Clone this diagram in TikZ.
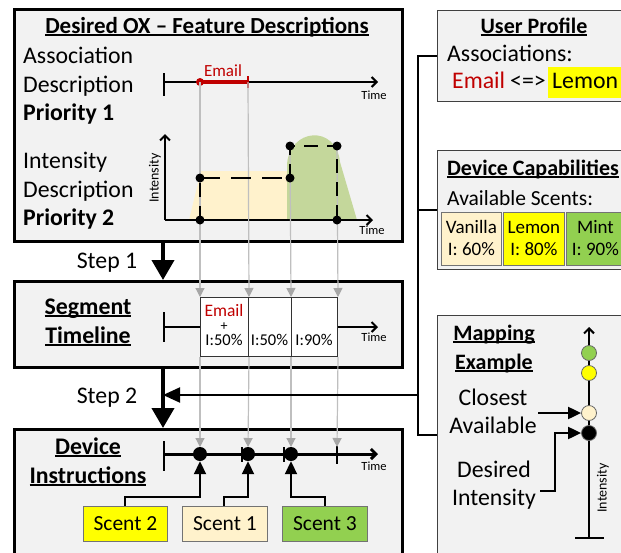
\documentclass[tikz,border=0pt]{standalone}
\usepackage{fontspec}
\setmainfont{Carlito}
\usetikzlibrary{arrows.meta,calc}

\definecolor{panel}{HTML}{F2F2F2}
\definecolor{cream}{HTML}{FFF2CC}
\definecolor{lemon}{HTML}{FFFF00}
\definecolor{mint}{HTML}{92D050}
\definecolor{emailred}{HTML}{C00000}
\definecolor{guide}{HTML}{BFBFBF}
\definecolor{guidetip}{HTML}{A6A6A6}
\definecolor{plotcream}{HTML}{FFF2CC}
\definecolor{plotgreen}{HTML}{C4D79B}

\newcommand{\fsz}[1]{\fontsize{#1}{#1}\selectfont}
% bold heading with a thick underline
\newcommand{\hdr}[1]{\begingroup\setbox0\hbox{\bfseries #1}%
  \leavevmode\rlap{\rule[-2.6pt]{\wd0}{1.4pt}}\box0\endgroup}

\tikzset{
  panelbox/.style={draw, line width=3pt, fill=panel, anchor=north west, inner sep=0pt},
  sidebox/.style={draw=black!75, line width=1pt, fill=panel, anchor=north west, inner sep=0pt},
  chip/.style={draw=black!55, line width=0.8pt, anchor=north west, inner sep=0pt},
  cell/.style={draw=black!80, line width=1pt, fill=white, anchor=north west, inner sep=0pt},
  body/.style={font=\fsz{23.8}, inner sep=0pt},
  small/.style={font=\fsz{12.5}, inner sep=0pt},
  steparrow/.style={line width=4pt, -{Triangle[width=22pt,length=20pt]}},
  busline/.style={line width=2pt},
  guideline/.style={draw=guide, line width=1.2pt, -{Triangle[width=9pt,length=9pt,color=guidetip]}},
  axisline/.style={line width=2pt, -{Straight Barb[length=5pt,width=10pt]}},
  tickline/.style={line width=2.5pt},
  mark/.style={circle, fill=black, inner sep=0pt, minimum size=#1},
  blackhead/.style={line width=2pt, -{Triangle[width=12pt,length=13pt]}},
  bubble/.style={circle, draw=black!60, line width=0.8pt, inner sep=0pt, minimum size=15pt},
}

\begin{document}
\begin{tikzpicture}[x=1pt, y=-1pt]
\useasboundingbox (0,0) rectangle (621,552);
\clip (0,0) rectangle (621,552);

% ---------------- main panels ----------------
\node[panelbox, minimum width=388pt, minimum height=232pt] (feat) at (13,8) {};
\node[panelbox, minimum width=388pt, minimum height=86pt] (seg) at (13,280) {};
\node[panelbox, minimum width=388pt, minimum height=142pt] (dev) at (13,428) {};

% ---------------- side panels ----------------
\node[sidebox, minimum width=203pt, minimum height=91pt] (prof) at (437,10) {};
\node[sidebox, minimum width=203pt, minimum height=119pt] (cap) at (437,150) {};
\node[sidebox, minimum width=203pt, minimum height=255pt] (map) at (437,315) {};

% ---------------- feature descriptions ----------------
\node[font=\fsz{23}, inner sep=0pt, anchor=base] (feattitle) at (207,33) {\hdr{Desired OX – Feature Descriptions}};
\node[body, anchor=base west] (l1) at (23,63) {Association};
\node[body, anchor=base west] (l2) at (23,92) {Description};
\node[body, anchor=base west] (l3) at (23,120) {\bfseries Priority 1};
\node[body, anchor=base west] (l4) at (23,168) {Intensity};
\node[body, anchor=base west] (l5) at (23,197) {Description};
\node[body, anchor=base west] (l6) at (23,225) {\bfseries Priority 2};

% association time line
\coordinate (a0) at (164,82);
\coordinate (aS) at (200,82);
\coordinate (aE) at (248,82);
\coordinate (aT) at (378,82);
\draw[tickline] (164,73) -- (164,96);
\draw[axisline] (a0) -- (aT);
\draw[emailred, line width=3.5pt] (aS) -- (aE);
\draw[emailred, line width=1.5pt] (248,76) -- (248,88);
\node[mark=8pt, fill=emailred] (aDot) at (aS) {};
\node[font=\fsz{17}, text=emailred, anchor=base, inner sep=0pt] (aEmail) at (223,76) {Email};
\node[small, anchor=base] (aTime) at (374,99) {Time};

% intensity plot
\fill[plotcream] (189,220) -- (201,171) -- (287,171) -- (287,220) -- cycle;
\fill[plotgreen] (287,220) -- (287,165) .. controls (289,128) and (336,124) .. (340,162) -- (357,220) -- cycle;
\coordinate (p0) at (165,220);
\draw[axisline] (p0) -- (165,134);
\draw[axisline] (p0) -- (373,220);
\node[font=\fsz{14}, rotate=90, inner sep=0pt] (pInt) at (155,178) {Intensity};
\node[small, anchor=base] (pTime) at (372,234) {Time};

% corner points of the desired intensity curve
\coordinate (q1) at (200,178);
\coordinate (q2) at (290,178);
\coordinate (q3) at (290,146);
\coordinate (q4) at (337,146);
\coordinate (q0) at (200,220);
\coordinate (q5) at (337,220);

% ---------------- segment timeline ----------------
\node[body, anchor=base] (segt1) at (88,314) {\hdr{Segment}};
\node[body, anchor=base] (segt2) at (88,343) {\hdr{Timeline}};
\coordinate (s0) at (164,327);
\draw[tickline] (164,312) -- (164,342);
\node[cell, minimum width=48pt, minimum height=59pt] (c1) at (200,297) {};
\node[cell, minimum width=43pt, minimum height=59pt] (c2) at (248,297) {};
\node[cell, minimum width=46pt, minimum height=59pt] (c3) at (291,297) {};
\draw[line width=2pt] (s0) -- (c1.west |- s0);
\draw[axisline] (c3.east |- s0) -- (378,327);
\node[font=\fsz{17.5}, text=emailred, anchor=base, inner sep=0pt] (cEmail) at (224,316) {Email};
\node[font=\fsz{14}, anchor=base, inner sep=0pt] (cPlus) at (224,330) {+};
\node[font=\fsz{16.5}, anchor=base, inner sep=0pt] (cI1) at (224,345) {I:50\%};
\node[font=\fsz{16.5}, anchor=base, inner sep=0pt] (cI2) at (269.5,345) {I:50\%};
\node[font=\fsz{16.5}, anchor=base, inner sep=0pt] (cI3) at (314,345) {I:90\%};
\node[small, anchor=base] (sTime) at (374,341) {Time};

% ---------------- device instructions ----------------
\node[body, anchor=base] (devt1) at (88,454) {\hdr{Device}};
\node[body, anchor=base] (devt2) at (88,483) {\hdr{Instructions}};
\coordinate (d0) at (164,454);
\draw[tickline] (164,441) -- (164,471);
\draw[line width=3pt, -{Straight Barb[length=5pt,width=10pt]}] (d0) -- (378,454);
\draw[tickline] (242,447) -- (242,462);
\draw[tickline] (284,447) -- (284,462);
\draw[tickline] (337,446) -- (337,464);
\node[mark=14pt] (d1) at (200,454) {};
\node[mark=14pt] (d2) at (248,454) {};
\node[mark=14pt] (d3) at (291,454) {};
\node[small, anchor=base] (dTime) at (374,470) {Time};

\node[chip, fill=lemon, minimum width=84pt, minimum height=35pt, font=\fsz{21.5}] (sc2) at (83,506) {Scent 2};
\node[chip, fill=cream, minimum width=85pt, minimum height=35pt, font=\fsz{21.5}] (sc1) at (182,506) {Scent 1};
\node[chip, fill=mint, minimum width=85pt, minimum height=35pt, font=\fsz{21.5}] (sc3) at (282,506) {Scent 3};
\draw[blackhead] (125,506) |- (200,497) -- (d1.south);
\draw[blackhead] (224,506) |- (248,497) -- (d2.south);
\draw[blackhead] (325,506) |- (291,497) -- (d3.south);

% gray guide lines
\draw[guideline] (aDot.center) -- (c1.north west);
\draw[guideline] (aE) -- (c1.north east);
\draw[guideline] (q3) -- (c3.north west);
\draw[guideline] (q4) -- (c3.north east);
\draw[guideline] (c1.south west) -- (200,447);
\draw[guideline] (c1.south east) -- (248,447);
\draw[guideline] (c3.south west) -- (291,447);
\draw[guideline] (c3.south east) -- (337,447);

% desired intensity (dashed) drawn over the guides
\draw[line width=2.5pt, dash pattern=on 20pt off 11pt] (q1) -- (q2);
\draw[line width=2.5pt, dash pattern=on 14pt off 9pt] (q0) -- (q1);
\draw[line width=2.5pt, dash pattern=on 14pt off 9pt] (q2) -- (q3) -- (q4) -- (q5);
\foreach \p in {q0,q1,q2,q3,q4,q5} \node[mark=9pt] at (\p) {};

% ---------------- steps ----------------
\coordinate (stepx) at (163,0);
\draw[steparrow] (stepx |- feat.south) -- (stepx |- seg.north);
\draw[steparrow] (stepx |- seg.south) -- (stepx |- dev.north);
\node[body, anchor=base] (step1) at (107,268) {Step 1};
\node[body, anchor=base] (step2) at (107,403) {Step 2};

% bus joining the side panels
\coordinate (bus) at (418,0);
\coordinate (mapin) at (437,435);
\draw[busline] (prof.west) -- (bus |- prof.west) -- (bus |- mapin) -- (mapin);
\draw[busline] (bus |- cap.west) -- (cap.west);
\coordinate (busout) at (418,395);
\coordinate (merge) at (163,395);
\draw[line width=2pt, -{Triangle[width=15pt,length=17pt]}] (busout) -- (merge);

% ---------------- user profile ----------------
\node[font=\fsz{22}, inner sep=0pt, anchor=base] (proft) at (534,33) {\hdr{User Profile}};
\node[body, anchor=base west] (assoc) at (447,61) {Associations:};
\fill[lemon] (548,67) rectangle (640,98);
\node[body, anchor=base west, text=emailred] (pEmail) at (452,88) {Email};
\node[body, anchor=base west] (pArrow) at (510,88) {<=>};
\node[body, anchor=base west] (pLemon) at (552,88) {Lemon};

% ---------------- device capabilities ----------------
\node[font=\fsz{22}, inner sep=0pt, anchor=base] (capt) at (533,175) {\hdr{Device Capabilities}};
\node[font=\fsz{21.5}, inner sep=0pt, anchor=base west] (avail) at (447,205) {Available Scents:};
\node[chip, fill=cream, minimum width=60pt, minimum height=53pt] (vanilla) at (441,212) {};
\node[chip, fill=lemon, minimum width=61pt, minimum height=53pt] (lemon) at (503,212) {};
\node[chip, fill=mint, minimum width=58pt, minimum height=53pt] (mint) at (566,212) {};
\foreach \n/\a/\b in {vanilla/Vanilla/I: 60\%, lemon/Lemon/I: 80\%, mint/Mint/I: 90\%} {
  \node[font=\fsz{19}, inner sep=0pt, anchor=base] at ($(\n.north)+(0,21)$) {\a};
  \node[font=\fsz{19}, inner sep=0pt, anchor=base] at ($(\n.north)+(0,43)$) {\b};
}

% ---------------- mapping example ----------------
\node[font=\fsz{22}, inner sep=0pt, anchor=base] (mapt1) at (494,340) {\hdr{Mapping}};
\node[font=\fsz{22}, inner sep=0pt, anchor=base] (mapt2) at (494,369) {\hdr{Example}};
\node[body, anchor=base] (m1) at (493,405) {Closest};
\node[body, anchor=base] (m2) at (493,433) {Available};
\node[body, anchor=base] (m3) at (494,477) {Desired};
\node[body, anchor=base] (m4) at (494,505) {Intensity};
\coordinate (mb) at (589,538);
\draw[axisline] (mb) -- (589,327);
\draw[busline] (575,538) -- (604,538);
\node[bubble, fill=mint] (bGreen) at (589,353) {};
\node[bubble, fill=lemon] (bYellow) at (589,373) {};
\node[bubble, fill=cream] (bCream) at (589,413) {};
\node[bubble, fill=black] (bBlack) at (589,433) {};
\node[font=\fsz{14}, rotate=90, inner sep=0pt] (mInt) at (603,488) {Intensity};
\draw[blackhead] (538,413) -- (bCream.west);
\draw[blackhead] (540,491) -| (555,433) -- (bBlack.west);
\end{tikzpicture}
\end{document}
